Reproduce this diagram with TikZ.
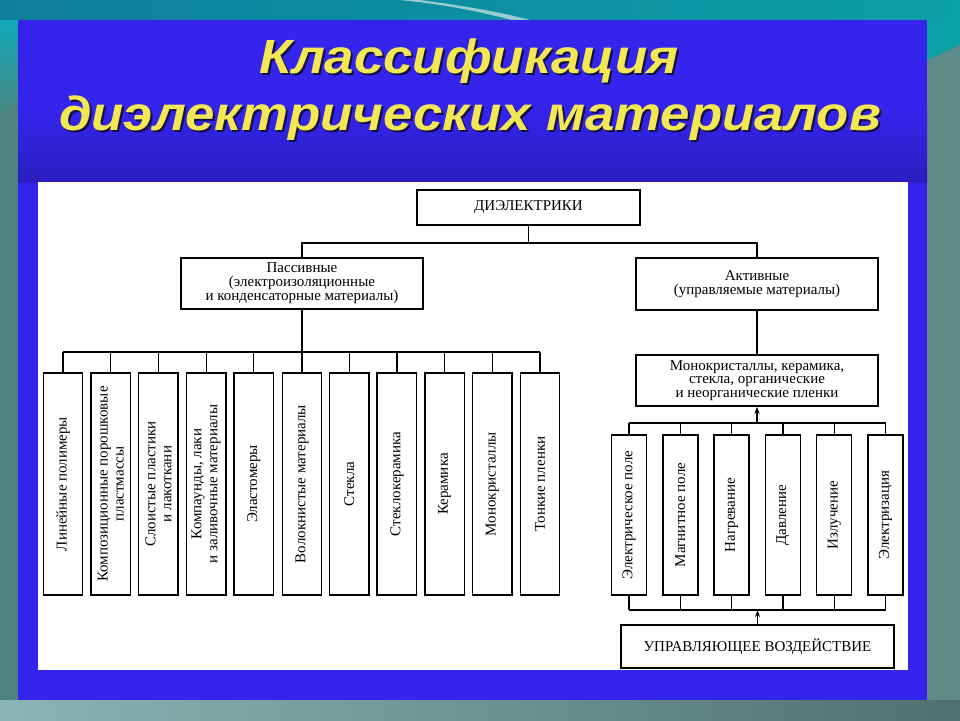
\documentclass[tikz,border=0pt]{standalone}
\usepackage{fontspec}
\setmainfont{Liberation Serif}
\newfontfamily\diagfont{Liberation Serif}
\newfontfamily\titlefont[FakeStretch=1.1]{Liberation Sans}
\usetikzlibrary{arrows.meta}
\definecolor{bggray}{RGB}{78,132,128}
\definecolor{bggrayR}{RGB}{94,138,136}
\definecolor{tealA}{RGB}{14,126,156}
\definecolor{tealB}{RGB}{12,160,168}
\definecolor{cyanA}{RGB}{16,170,186}
\definecolor{swooshc}{RGB}{150,205,208}
\definecolor{bluebg}{RGB}{52,36,236}
\definecolor{bluedark}{RGB}{42,30,192}
\definecolor{yellowt}{RGB}{243,232,84}
\definecolor{shadowc}{RGB}{20,16,70}
\definecolor{botL}{RGB}{140,180,180}
\definecolor{botR}{RGB}{80,112,112}
\begin{document}
\begin{tikzpicture}[x=1pt,y=-1pt,
  box/.style={draw=black, line width=1.4pt, fill=white, inner sep=1pt, align=center,
              font=\diagfont\fontsize{15}{13.5}\selectfont},
  hbox/.style={box},
  lbox/.style={box, rotate=90, minimum width=222pt, minimum height=39.5pt,
               font=\diagfont\fontsize{15}{16}\selectfont},
  rbox/.style={box, rotate=90, minimum width=160pt, minimum height=35pt,
               font=\diagfont\fontsize{15}{16}\selectfont},
  conn/.style={line width=1.2pt},
  arr/.style={line width=1.2pt, -{Stealth[length=7pt,width=5pt]}},
  ttl/.style={font=\titlefont\bfseries\itshape\fontsize{48}{54}\selectfont, text=yellowt, anchor=base, inner sep=0pt},
  ttlsh/.style={ttl, text=shadowc}]
\useasboundingbox (0,0) rectangle (960,720);
% background
\shade[left color=bggray, right color=bggrayR] (0,0) rectangle (960,720);
\shade[left color=botL, right color=botR] (0,700) rectangle (960,720);
\shade[left color=tealA, right color=tealB] (0,0) rectangle (960,20);
\shade[top color=cyanA, bottom color=bggray] (0,20) -- (18,20) -- (18,100) -- (0,118) -- cycle;
\fill[tealB] (927,20) -- (960,20) -- (960,45) -- (927,60) -- cycle;
\fill[swooshc] (420,0) .. controls (465,6) and (500,12) .. (530,20) -- (512,20) .. controls (480,12) and (450,5) .. (400,0) -- cycle;
% blue panel
\fill[bluebg] (18,20) rectangle (927,700);
\shade[top color=bluebg, bottom color=bluedark] (18,110) rectangle (927,182);
% white panel
\fill[white] (38,182) rectangle (908,670);
% title
\node[ttlsh] (t1s) at (471,75) {Классификация};
\node[ttl] (t1) at (469,73) {Классификация};
\node[ttlsh] (t2s) at (472,132) {диэлектрических материалов};
\node[ttl] (t2) at (470,130) {диэлектрических материалов};
% top level
\node[hbox, minimum width=223pt, minimum height=35pt] (root) at (528.5,207.5) {ДИЭЛЕКТРИКИ};
\node[hbox, minimum width=242pt, minimum height=51pt] (pass) at (302,283.5)
  {Пассивные\\(электроизоляционные\\и конденсаторные материалы)};
\node[hbox, minimum width=242pt, minimum height=52pt] (act) at (757,284)
  {Активные\\(управляемые материалы)};
\node[hbox, minimum width=242pt, minimum height=51pt] (mono) at (757,380.5)
  {Монокристаллы, керамика,\\стекла, органические\\и неорганические пленки};
\node[hbox, minimum width=273pt, minimum height=43pt] (ctrl) at (757.5,646.5)
  {УПРАВЛЯЮЩЕЕ ВОЗДЕЙСТВИЕ};
\coordinate (tbus) at (0,243);
\coordinate (lbus) at (0,352);
\coordinate (rtbus) at (0,423);
\coordinate (rbbus) at (0,610);
% left boxes
\node[lbox] (L1) at (63,484) {Линейные полимеры};
\node[lbox] (L2) at (110.7,484) {Композиционные порошковые\\пластмассы};
\node[lbox] (L3) at (158.4,484) {Слоистые пластики\\и лакоткани};
\node[lbox] (L4) at (206.1,484) {Компаунды, лаки\\и заливочные материалы};
\node[lbox] (L5) at (253.8,484) {Эластомеры};
\node[lbox] (L6) at (302,484) {Волокнистые материалы};
\node[lbox] (L7) at (349.2,484) {Стекла};
\node[lbox] (L8) at (396.9,484) {Стеклокерамика};
\node[lbox] (L9) at (444.6,484) {Керамика};
\node[lbox] (L10) at (492.3,484) {Монокристаллы};
\node[lbox] (L11) at (540,484) {Тонкие пленки};
% right boxes
\node[rbox] (R1) at (629,515) {Электрическое поле};
\node[rbox] (R2) at (680.3,515) {Магнитное поле};
\node[rbox] (R3) at (731.6,515) {Нагревание};
\node[rbox] (R4) at (782.9,515) {Давление};
\node[rbox] (R5) at (834.2,515) {Излучение};
\node[rbox] (R6) at (885.5,515) {Электризация};
% connectors top
\draw[conn] (root.south) -- (root.south |- tbus);
\draw[conn] (pass.north) -- (pass.north |- tbus) -- (act.north |- tbus) -- (act.north);
\draw[conn] (pass.south) -- (pass.south |- lbus);
\draw[conn] (L1.east |- lbus) -- (L11.east |- lbus);
\foreach \i in {1,...,11} \draw[conn] (L\i.east |- lbus) -- (L\i.east);
\draw[conn] (act.south) -- (mono.north);
% right group
\draw[conn] (R1.east |- rtbus) -- (R6.east |- rtbus);
\draw[conn] (R1.west |- rbbus) -- (R6.west |- rbbus);
\foreach \i in {1,...,6} {
  \draw[conn] (R\i.east |- rtbus) -- (R\i.east);
  \draw[conn] (R\i.west) -- (R\i.west |- rbbus);
}
\draw[arr] (mono.south |- rtbus) -- (mono.south);
\draw[arr] (ctrl.north) -- (ctrl.north |- rbbus);
\end{tikzpicture}
\end{document}
